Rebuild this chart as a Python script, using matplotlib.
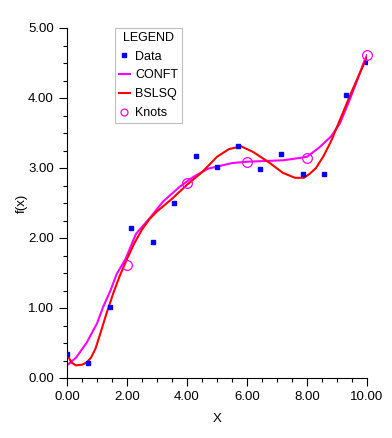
import matplotlib
matplotlib.use("Agg")
import matplotlib.pyplot as plt
from matplotlib.ticker import MultipleLocator, FormatStrFormatter

plt.rcParams['font.family'] = ['Liberation Sans', 'DejaVu Sans']

# puntos de datos
data_x = [0.0, 0.714, 1.429, 2.143, 2.857, 3.571, 4.286, 5.0,
          5.714, 6.429, 7.143, 7.857, 8.571, 9.286, 10.0]
data_y = [0.35, 0.22, 1.01, 2.15, 1.94, 2.50, 3.17, 3.01,
          3.32, 2.98, 3.20, 2.91, 2.91, 4.05, 4.52]

# curva CONFT
conft_x = [0.0, 0.3, 0.65, 1.0, 1.2, 1.45, 1.65, 1.95, 2.3, 2.75, 3.2, 3.75,
           4.2, 4.7, 5.0, 5.5, 6.0, 6.6, 7.2, 7.7, 8.0, 8.4, 8.8, 9.1, 9.4,
           9.7, 9.9, 10.0]
conft_y = [0.18, 0.29, 0.50, 0.78, 1.01, 1.25, 1.48, 1.70, 2.06, 2.28, 2.52,
           2.73, 2.87, 2.99, 3.02, 3.07, 3.09, 3.10, 3.11, 3.14, 3.16, 3.29,
           3.45, 3.64, 3.95, 4.28, 4.52, 4.61]

# curva BSLSQ
bslsq_x = [0.0, 0.15, 0.3, 0.5, 0.65, 0.8, 0.95, 1.1, 1.3, 1.55, 1.75, 2.0,
           2.25, 2.5, 2.75, 3.0, 3.5, 4.0, 4.5, 5.0, 5.4, 5.8, 6.2, 6.7, 7.2,
           7.6, 7.9, 8.1, 8.3, 8.55, 8.8, 9.1, 9.4, 9.7, 10.0]
bslsq_y = [0.34, 0.22, 0.18, 0.19, 0.22, 0.29, 0.42, 0.62, 0.90, 1.22, 1.45,
           1.70, 1.93, 2.12, 2.27, 2.38, 2.56, 2.76, 2.94, 3.16, 3.27, 3.31,
           3.23, 3.09, 2.93, 2.86, 2.86, 2.92, 3.00, 3.17, 3.38, 3.69, 4.00,
           4.30, 4.58]

# nodos
knots_x = [2.0, 4.0, 6.0, 8.0, 10.0]
knots_y = [1.62, 2.79, 3.09, 3.15, 4.61]

fig = plt.figure(figsize=(3.92, 4.38), dpi=100)
ax = fig.add_axes([67/392, 1 - 378/438, 300/392, 350/438])

ax.plot(data_x, data_y, 's', color='#0000ff', markersize=2.6, linestyle='none',
        label='Data', zorder=4)
ax.plot(conft_x, conft_y, color='#ff00ff', linewidth=1.5, label='CONFT', zorder=2)
ax.plot(bslsq_x, bslsq_y, color='#ff0000', linewidth=1.5, label='BSLSQ', zorder=3)
ax.plot(knots_x, knots_y, 'o', markerfacecolor='none', markeredgecolor='#ff00ff',
        markersize=7, markeredgewidth=0.9, linestyle='none', label='Knots',
        clip_on=False, zorder=5)

ax.set_xlim(0, 10)
ax.set_ylim(0, 5)

ax.spines['top'].set_visible(False)
ax.spines['right'].set_visible(False)
ax.spines['left'].set_linewidth(0.8)
ax.spines['bottom'].set_linewidth(0.8)

ax.xaxis.set_major_locator(MultipleLocator(2))
ax.xaxis.set_minor_locator(MultipleLocator(0.5))
ax.yaxis.set_major_locator(MultipleLocator(1))
ax.yaxis.set_minor_locator(MultipleLocator(0.25))
ax.xaxis.set_major_formatter(FormatStrFormatter('%.2f'))
ax.yaxis.set_major_formatter(FormatStrFormatter('%.2f'))
ax.tick_params(which='major', direction='out', length=5.5, width=0.8,
               labelsize=9.5, pad=4)
ax.tick_params(which='minor', direction='out', length=3, width=0.8)

ax.set_xlabel('X', fontsize=9.5, labelpad=7)
ax.set_ylabel('f(x)', fontsize=9.5, labelpad=0)

leg = ax.legend(title='LEGEND', loc='upper left', bbox_to_anchor=(0.16, 1.0),
                borderaxespad=0, fancybox=False, edgecolor='#c0c0c0',
                fontsize=9, title_fontsize=9, handlelength=0.9,
                handletextpad=0.4, labelspacing=0.55, borderpad=0.3,
                framealpha=1)
leg.get_frame().set_linewidth(0.8)
leg.legend_handles[3].set_markersize(5)

fig.savefig('out.png', dpi=100)
